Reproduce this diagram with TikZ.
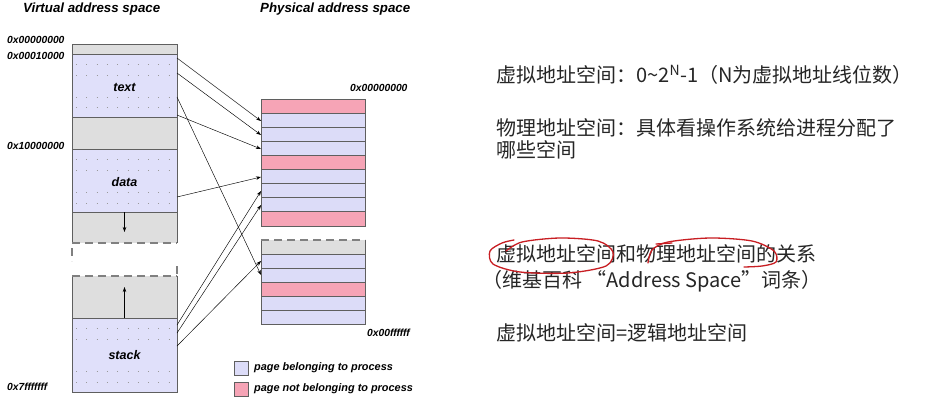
\documentclass[tikz,border=0pt]{standalone}
\usepackage{fontspec}
\setmainfont{Liberation Sans}
\newfontfamily\cjk{Noto Sans CJK SC}
\usetikzlibrary{arrows.meta}

\definecolor{vblue}{RGB}{224,224,250}
\definecolor{pblue}{RGB}{220,220,248}
\definecolor{ppink}{RGB}{246,164,182}
\definecolor{gapgray}{RGB}{222,222,222}
\definecolor{edgegray}{RGB}{95,95,95}
\definecolor{inkred}{RGB}{200,30,35}

\begin{document}
\begin{tikzpicture}[x=1pt, y=-1pt,
  >={Stealth[length=5pt,width=3.5pt]},
  ttl/.style={font=\bfseries\itshape\fontsize{13.3}{15}\selectfont, anchor=west, inner sep=0pt},
  addr/.style={font=\bfseries\itshape\fontsize{10.3}{12}\selectfont, anchor=west, inner sep=0pt},
  seglbl/.style={font=\bfseries\itshape\fontsize{12.5}{14}\selectfont, inner sep=0pt},
  legend/.style={font=\bfseries\itshape\fontsize{10.9}{13}\selectfont, anchor=west, inner sep=0pt},
  edge/.style={draw=edgegray, line width=0.8pt},
  dots/.style={draw=gray!80, line width=0.7pt, dash pattern=on 0.8pt off 9.5pt},
  brk/.style={draw=gray, line width=1.2pt, dash pattern=on 8pt off 5pt},
  map/.style={->, line width=0.45pt},
  note/.style={font=\cjk\fontsize{20}{22}\selectfont, anchor=west, inner sep=0pt, text=black!85},
  ink/.style={draw=inkred, line width=1.3pt, line cap=round, line join=round},
]
\useasboundingbox[fill=white] (0,0) rectangle (944,404);

% Titles
\node[ttl] (vtitle) at (23,9) {Virtual address space};
\node[ttl] (ptitle) at (260,9) {Physical address space};

% Virtual address space: segments
\foreach \ya/\yb/\col in {44/54/gapgray, 54/117/vblue, 117/149/gapgray, 149/212/vblue,
                          212/243/gapgray, 276/318/gapgray, 318/392/vblue}{
  \fill[\col] (72,\ya) rectangle (177,\yb);
}
% dotted page lines inside the blue segments
\foreach \yy in {64,75,97,107, 159,170,192,203, 328,339,371,382}{
  \draw[dots] (76,\yy) -- (177,\yy);
}
% outline, solid parts
\draw[edge] (72,243) -- (72,44) -- (177,44) -- (177,243);
\draw[edge] (72,276) -- (72,392) -- (177,392) -- (177,276);
\foreach \yy in {54,117,149,212,318}{
  \draw[edge] (72,\yy) -- (177,\yy);
}
% break between heap and stack
\draw[brk] (72,243) -- (177,243);
\draw[brk] (72,276) -- (177,276);
\draw[brk] (72,248) -- (72,261);
\draw[brk] (177,266) -- (177,276);

\node[seglbl] (text) at (124.5,87) {text};
\node[seglbl] (data) at (124.5,182) {data};
\node[seglbl] (stack) at (124.5,355) {stack};

% growth arrows of heap and stack
\coordinate (heapa) at (124.5,212);
\coordinate (heapb) at (124.5,232);
\coordinate (stacka) at (124.5,318);
\coordinate (stackb) at (124.5,287);
\draw[->, line width=0.6pt] (heapa) -- (heapb);
\draw[->, line width=0.6pt] (stacka) -- (stackb);

% Virtual addresses
\node[addr] (a0) at (7,40) {0x00000000};
\node[addr] (a1) at (7,56) {0x00010000};
\node[addr] (a2) at (7,146) {0x10000000};
\node[addr] (a3) at (7,387) {0x7fffffff};

% Physical address space: pages
\foreach \k/\col in {0/ppink,1/pblue,2/pblue,3/pblue,4/ppink,5/pblue,6/pblue,7/pblue,8/ppink}{
  \filldraw[fill=\col, draw=edgegray, line width=0.8pt] (261,99+\k*14.1) rectangle (365,113.1+\k*14.1);
}
\fill[gapgray] (261,240) rectangle (365,254);
\draw[edge] (261,240) -- (261,254) (365,240) -- (365,254);
\draw[brk] (261,240) -- (365,240);
\foreach \k/\col in {0/pblue,1/pblue,2/ppink,3/pblue,4/pblue}{
  \filldraw[fill=\col, draw=edgegray, line width=0.8pt] (261,254+\k*14) rectangle (365,268+\k*14);
}
\node[addr] (p0) at (350,88) {0x00000000};
\node[addr] (p1) at (367,333) {0x00ffffff};

% Mapping of virtual pages to physical pages
\foreach \ys/\yd [count=\i] in {58/121, 73/135, 97/275, 115/149, 197/177, 325/191, 333/205, 346/261}{
  \coordinate (v\i) at (177,\ys);
  \coordinate (f\i) at (261,\yd);
  \draw[map] (v\i) -- (f\i);
}

% Legend
\filldraw[fill=pblue, draw=edgegray, line width=0.7pt] (234,361) rectangle (248,375);
\filldraw[fill=ppink, draw=edgegray, line width=0.7pt] (234,382) rectangle (248,396);
\node[legend] (lg1) at (254,368) {page belonging to process};
\node[legend] (lg2) at (254,389) {page not belonging to process};

% Notes on the right
\node[note] (n1) at (496,75) {虚拟地址空间：0\textasciitilde 2\textsuperscript{N}-1（N为虚拟地址线位数）};
\node[note] (n2) at (496,128) {物理地址空间：具体看操作系统给进程分配了};
\node[note] (n3) at (496,150) {哪些空间};
\node[note] (n4) at (496,254) {虚拟地址空间和物理地址空间的关系};
\node[note] (n5) at (482,281) {（维基百科 “Address Space”词条）};
\node[note] (n6) at (496,333) {虚拟地址空间=逻辑地址空间};

% Hand-drawn marks
\draw[ink] plot[smooth] coordinates {(506,251) (522,242) (560,238) (598,241) (613,252)
  (606,266) (568,273) (520,272) (493,264) (490,251) (502,243) (514,240)};
\draw[ink] plot[smooth] coordinates {(648,263) (652,250) (668,242) (710,238) (752,241)
  (774,251) (776,262) (762,266) (744,267)};
\draw[ink] (656,244) -- (672,243);
\end{tikzpicture}
\end{document}
